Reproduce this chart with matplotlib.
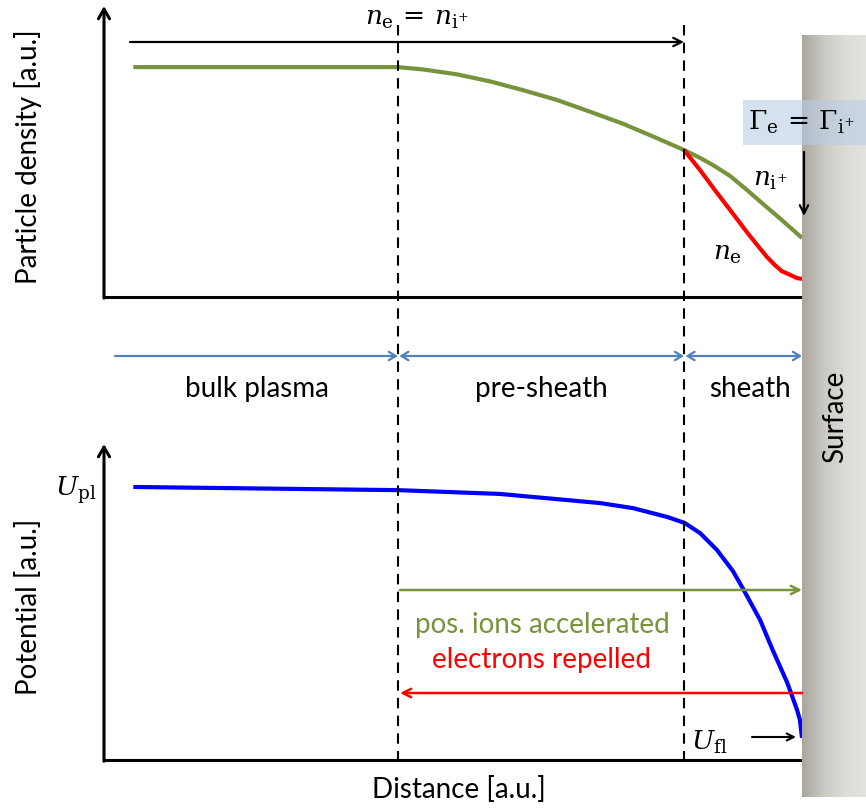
import numpy as np
import matplotlib
matplotlib.use("Agg")
import matplotlib.pyplot as plt
from matplotlib.colors import LinearSegmentedColormap
from matplotlib.patches import Rectangle

plt.rcParams['font.family'] = ['Lato', 'DejaVu Sans']
plt.rcParams['mathtext.fontset'] = 'dejavuserif'

# === DATA (distance in a.u.: 0 = left axis, 10 = surface) ===
X_PRESHEATH = 4.21
X_SHEATH = 8.31
X_SURFACE = 10.0

dist_ion = [0.42, 4.21, 4.57, 5.06, 5.53, 6.00, 6.49, 6.96, 7.44, 7.92, 8.31,
            8.54, 8.72, 8.97, 9.21, 9.44, 9.68, 10.0]
dens_ion = [7.90, 7.90, 7.82, 7.65, 7.41, 7.11, 6.77, 6.37, 5.95, 5.46, 5.05,
            4.78, 4.54, 4.16, 3.68, 3.20, 2.71, 2.03]

dist_el = [8.31, 8.54, 8.75, 8.97, 9.21, 9.37, 9.50, 9.61, 9.71, 9.83, 9.93, 10.0]
dens_el = [5.05, 4.36, 3.68, 2.99, 2.23, 1.75, 1.37, 1.10, 0.89, 0.76, 0.65, 0.62]

dist_pot = [0.42, 4.21, 5.67, 7.11, 7.58, 8.07, 8.32, 8.54, 8.78, 9.01, 9.15,
            9.40, 9.58, 9.79, 9.93, 9.97, 10.0]
pot = [8.64, 8.54, 8.42, 8.13, 7.97, 7.69, 7.50, 7.18, 6.65, 5.98, 5.44,
       4.43, 3.48, 2.44, 1.58, 1.27, 0.70]

regions = ['bulk plasma', 'pre-sheath', 'sheath']

GREEN = '#77933c'
BLUE_LINE = '#0000ff'
STEEL = '#4f81bd'
FS = 20      # label text
FS_MATH = 19

# === FIGURE ===
W, H = 866, 808
PX = 69.8          # pixels per distance unit
X0 = 104           # left axis position in pixels
fig = plt.figure(figsize=(W / 100, H / 100), dpi=100)


def setup_axis(ax):
    ax.set_xlim(0, X_SURFACE)
    ax.set_ylim(0, 10)
    for s in ['top', 'right', 'left']:
        ax.spines[s].set_visible(False)
    ax.spines['bottom'].set_linewidth(2.2)
    ax.set_xticks([])
    ax.set_yticks([])
    ax.patch.set_visible(False)
    ax.annotate('', xy=(0, 1), xytext=(0, -0.004), xycoords='axes fraction',
                arrowprops=dict(arrowstyle='->,head_length=0.7,head_width=0.4',
                                lw=2.2, color='black', shrinkA=0, shrinkB=0))


# --- density plot ---
ax1 = fig.add_axes([X0 / W, 1 - 297 / H, 698 / W, 291 / H])
setup_axis(ax1)
ax1.plot(dist_ion, dens_ion, color=GREEN, lw=3, solid_capstyle='butt', solid_joinstyle='round')
ax1.plot(dist_el, dens_el, color='red', lw=3, solid_capstyle='butt', solid_joinstyle='round')

# --- potential plot ---
ax2 = fig.add_axes([X0 / W, 1 - 760 / H, 698 / W, 316 / H])
setup_axis(ax2)
ax2.plot(dist_pot, pot, color=BLUE_LINE, lw=3, solid_capstyle='butt', solid_joinstyle='round')

# --- overlay: x in distance units, y in pixels from top ---
ov = fig.add_axes([0, 0, 1, 1], zorder=3)
ov.axis('off')


def ux(px):
    return (px - X0) / PX


# surface
surf_cmap = LinearSegmentedColormap.from_list('surf', ['#aaa69e', '#cbc9c4', '#dcdcd8', '#e3e3e0'])
grad = np.linspace(0, 1, 200).reshape(1, -1)
ov.imshow(grad, cmap=surf_cmap, aspect='auto', extent=(X_SURFACE, ux(W + 2), 797, 35), zorder=1)
ov.text(ux(835), 417, 'Surface', rotation=90, ha='center', va='center', fontsize=FS, zorder=5)

# region boundaries
dash = dict(color='black', lw=1.5, ls=(0, (5, 3.5)), zorder=2)
ov.plot([X_PRESHEATH, X_PRESHEATH], [25, 760], **dash)
ov.plot([X_SHEATH, X_SHEATH], [25, 760], **dash)

# quasi-neutral region arrow
ov.annotate('', xy=(X_SHEATH, 42), xytext=(ux(130), 42),
            arrowprops=dict(arrowstyle='->,head_length=0.6,head_width=0.3', lw=1.6,
                            color='black', shrinkA=0, shrinkB=0))
ov.text(ux(417), 19, r'$n_{\mathrm{e}}\,=\,n_{\mathrm{i}^{+}}$', ha='center', va='center', fontsize=FS_MATH)

# region arrows
blue_arrow = dict(lw=1.6, color=STEEL, shrinkA=0, shrinkB=0)
ov.annotate('', xy=(X_PRESHEATH, 356), xytext=(ux(115), 356),
            arrowprops=dict(arrowstyle='->,head_length=0.5,head_width=0.3', **blue_arrow))
ov.annotate('', xy=(X_SHEATH, 356), xytext=(X_PRESHEATH + 0.02, 356),
            arrowprops=dict(arrowstyle='<->,head_length=0.5,head_width=0.3', **blue_arrow))
ov.annotate('', xy=(X_SURFACE, 356), xytext=(X_SHEATH + 0.02, 356),
            arrowprops=dict(arrowstyle='<->,head_length=0.5,head_width=0.3', **blue_arrow))
for name, px in zip(regions, [257, 541, 750]):
    ov.text(ux(px), 389, name, ha='center', va='center', fontsize=FS)

# density labels
ov.text(ux(770), 180, r'$n_{\mathrm{i}^{+}}$', ha='center', va='center', fontsize=FS_MATH)
ov.text(ux(727), 254, r'$n_{\mathrm{e}}$', ha='center', va='center', fontsize=FS_MATH)
ov.add_patch(Rectangle((ux(743), 100), ux(W + 2) - ux(743), 45,
                       facecolor='#b9cde5', alpha=0.6, edgecolor='none', zorder=4))
ov.text(ux(801), 122, r'$\Gamma_{\mathrm{e}}\,=\,\Gamma_{\mathrm{i}^{+}}$', ha='center', va='center',
        fontsize=FS_MATH, zorder=5)
ov.annotate('', xy=(ux(804), 216), xytext=(ux(804), 152),
            arrowprops=dict(arrowstyle='->,head_length=0.6,head_width=0.3', lw=1.6,
                            color='black', shrinkA=0, shrinkB=0), zorder=5)

# potential labels
ov.text(ux(76), 490, r'$U_{\mathrm{pl}}$', ha='center', va='center', fontsize=FS_MATH)
ov.text(ux(709), 742, r'$U_{\mathrm{fl}}$', ha='center', va='center', fontsize=FS_MATH)
ov.annotate('', xy=(ux(796), 737), xytext=(ux(752), 737),
            arrowprops=dict(arrowstyle='->,head_length=0.5,head_width=0.25', lw=1.5,
                            color='black', shrinkA=0, shrinkB=0))
ov.annotate('', xy=(X_SURFACE, 590), xytext=(ux(400), 590),
            arrowprops=dict(arrowstyle='->,head_length=0.6,head_width=0.3', lw=1.8,
                            color=GREEN, shrinkA=0, shrinkB=0))
ov.annotate('', xy=(ux(400), 693), xytext=(X_SURFACE, 693),
            arrowprops=dict(arrowstyle='->,head_length=0.6,head_width=0.3', lw=1.8,
                            color='red', shrinkA=0, shrinkB=0))
ov.text(ux(542), 625, 'pos. ions accelerated', ha='center', va='center', fontsize=FS, color=GREEN)
ov.text(ux(541), 660, 'electrons repelled', ha='center', va='center', fontsize=FS, color='red')

# axis labels
ov.text(ux(28), 157, 'Particle density [a.u.]', rotation=90, ha='center', va='center', fontsize=FS)
ov.text(ux(28), 607, 'Potential [a.u.]', rotation=90, ha='center', va='center', fontsize=FS)
ov.text(ux(459), 790, 'Distance [a.u.]', ha='center', va='center', fontsize=FS)

ov.set_xlim(ux(0), ux(W))
ov.set_ylim(H, 0)

fig.savefig('out.png', dpi=100)
